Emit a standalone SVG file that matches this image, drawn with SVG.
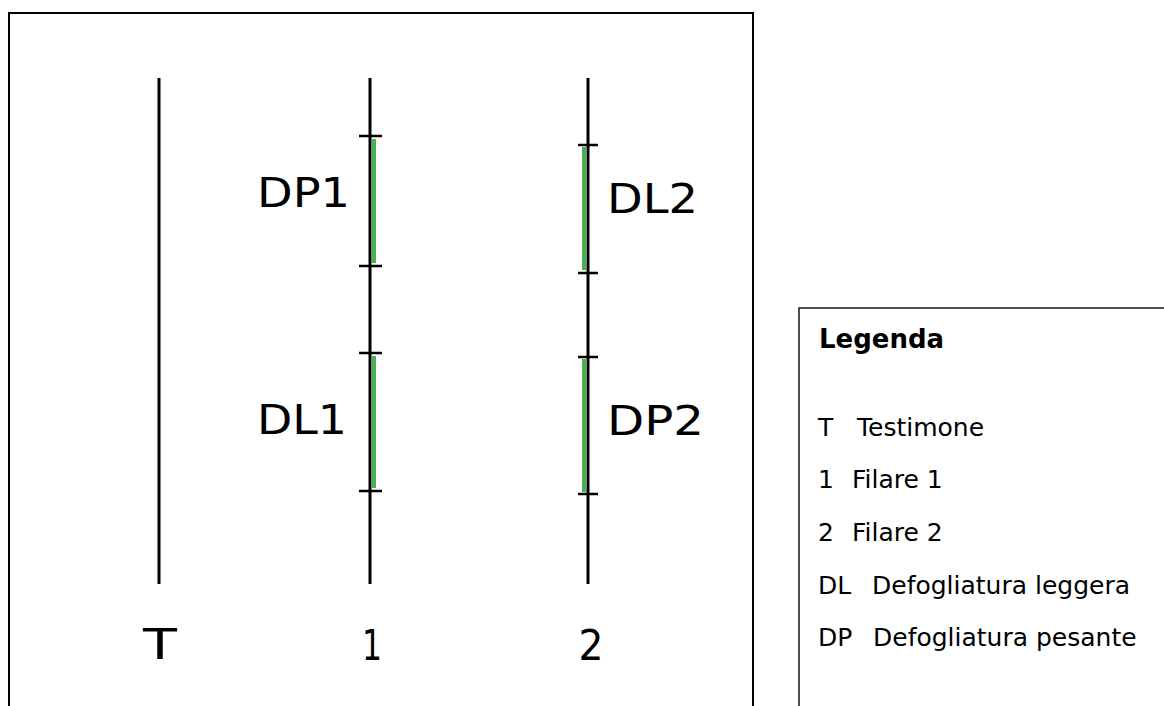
<svg xmlns="http://www.w3.org/2000/svg" width="1164" height="706" viewBox="0 0 1164 706">
  <style>
    .frame { fill: none; stroke: #000; stroke-width: 2; }
    .legframe { fill: none; stroke: #222; stroke-width: 1.6; }
    .row { stroke: #000; stroke-width: 3; fill: none; }
    .tick { stroke: #000; stroke-width: 2.5; }
    .seg { stroke: #4caf50; stroke-width: 4; }
    .lbl { font-family: "DejaVu Sans", Verdana, sans-serif; font-size: 40px; fill: #000; }
    .axis { font-family: "DejaVu Sans", Verdana, sans-serif; font-size: 42px; fill: #000; text-anchor: middle; }
    .leg { font-family: "DejaVu Sans", Verdana, sans-serif; font-size: 25px; fill: #000; }
    .legh { font-family: "DejaVu Sans", Verdana, sans-serif; font-size: 26px; font-weight: bold; fill: #000; }
  </style>
  <rect x="0" y="0" width="1164" height="706" fill="#fff"/>
  <rect x="9" y="13" width="744" height="720" class="frame" fill="#fdfdfd"/>

  <g id="connectors">
    <line class="row" x1="159" y1="78" x2="159" y2="584"/>
    <line class="row" x1="370" y1="78" x2="370" y2="584"/>
    <line class="row" x1="588" y1="78" x2="588" y2="584"/>
  </g>

  <g id="row-T">
    <text class="axis" x="160" y="659" textLength="34" lengthAdjust="spacingAndGlyphs">T</text>
  </g>

  <g id="row-1">
    <line class="seg" x1="374" y1="139" x2="374" y2="263"/>
    <line class="seg" x1="374" y1="356" x2="374" y2="488"/>
    <line class="tick" x1="359" y1="136" x2="382" y2="136"/>
    <line class="tick" x1="359" y1="266" x2="382" y2="266"/>
    <line class="tick" x1="359" y1="353" x2="382" y2="353"/>
    <line class="tick" x1="359" y1="491" x2="382" y2="491"/>
    <text class="axis" x="372" y="660" textLength="20" lengthAdjust="spacingAndGlyphs">1</text>
  </g>

  <g id="DP1">
    <text class="lbl" x="257" y="207" textLength="93" lengthAdjust="spacingAndGlyphs">DP1</text>
  </g>
  <g id="DL1">
    <text class="lbl" x="257" y="434" textLength="90" lengthAdjust="spacingAndGlyphs">DL1</text>
  </g>

  <g id="row-2">
    <line class="seg" x1="584" y1="147" x2="584" y2="270"/>
    <line class="seg" x1="584" y1="359" x2="584" y2="492"/>
    <line class="tick" x1="578" y1="145" x2="598" y2="145"/>
    <line class="tick" x1="578" y1="273" x2="598" y2="273"/>
    <line class="tick" x1="578" y1="357" x2="598" y2="357"/>
    <line class="tick" x1="578" y1="494" x2="598" y2="494"/>
    <text class="axis" x="591" y="660" textLength="25" lengthAdjust="spacingAndGlyphs">2</text>
  </g>

  <g id="DL2">
    <text class="lbl" x="607" y="213" textLength="91" lengthAdjust="spacingAndGlyphs">DL2</text>
  </g>
  <g id="DP2">
    <text class="lbl" x="607" y="435" textLength="97" lengthAdjust="spacingAndGlyphs">DP2</text>
  </g>

  <g id="legend">
    <rect x="799" y="308" width="400" height="420" class="legframe" fill="#fff"/>
    <text class="legh" x="819" y="348">Legenda</text>
    <text class="leg" y="436"><tspan x="818">T</tspan><tspan x="857">Testimone</tspan></text>
    <text class="leg" y="488"><tspan x="818">1</tspan><tspan x="852">Filare 1</tspan></text>
    <text class="leg" y="541"><tspan x="818">2</tspan><tspan x="852">Filare 2</tspan></text>
    <text class="leg" y="594"><tspan x="818">DL</tspan><tspan x="872">Defogliatura leggera</tspan></text>
    <text class="leg" y="646"><tspan x="818">DP</tspan><tspan x="873">Defogliatura pesante</tspan></text>
  </g>
</svg>
